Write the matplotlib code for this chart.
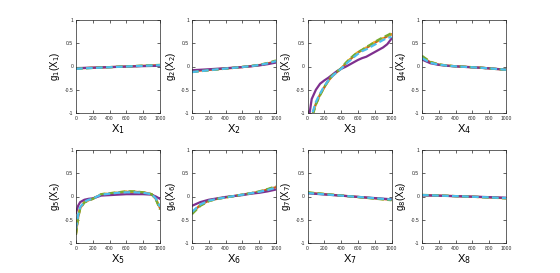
import numpy as np
import matplotlib
matplotlib.use("Agg")
import matplotlib.pyplot as plt

plt.rcParams['font.family'] = ['Liberation Sans', 'DejaVu Sans']

# MATLAB default colours
c_orange = (0.850, 0.325, 0.098)
c_yellow = (0.929, 0.694, 0.125)
c_purple = (0.494, 0.184, 0.556)
c_green = (0.466, 0.674, 0.188)
c_cyan = (0.301, 0.745, 0.933)

# estimated component functions g_j(X_j), 5 fits each
x11 = [0, 100, 200, 300, 400, 500, 600, 700, 800, 900, 1000]

g1_o = [-0.04, -0.034, -0.028, -0.021, -0.014, -0.007, 0.0, 0.008, 0.015, 0.022, 0.03]
g1_y = [-0.045, -0.038, -0.03, -0.022, -0.015, -0.007, 0.0, 0.008, 0.016, 0.024, 0.032]
g1_p = [-0.035, -0.03, -0.025, -0.019, -0.013, -0.007, -0.002, 0.003, 0.008, 0.012, 0.015]
g1_g = [-0.045, -0.037, -0.03, -0.022, -0.014, -0.006, 0.002, 0.01, 0.018, 0.026, 0.035]
g1_c = [-0.05, -0.04, -0.032, -0.024, -0.016, -0.008, 0.0, 0.008, 0.015, 0.022, 0.028]

g2_o = [-0.1, -0.087, -0.073, -0.058, -0.043, -0.028, -0.012, 0.007, 0.03, 0.065, 0.11]
g2_y = [-0.11, -0.095, -0.078, -0.062, -0.045, -0.028, -0.01, 0.009, 0.033, 0.07, 0.12]
g2_p = [-0.08, -0.07, -0.06, -0.048, -0.037, -0.025, -0.012, 0.004, 0.024, 0.05, 0.085]
g2_g = [-0.12, -0.1, -0.082, -0.064, -0.046, -0.028, -0.01, 0.01, 0.036, 0.075, 0.13]
g2_c = [-0.12, -0.1, -0.08, -0.062, -0.045, -0.028, -0.01, 0.009, 0.032, 0.068, 0.115]

x21 = [0, 50, 100, 150, 200, 250, 300, 350, 400, 450, 500, 550, 600, 650, 700,
       750, 800, 850, 900, 950, 1000]
g3_o = [-1.4, -1.08, -0.8, -0.6, -0.45, -0.3, -0.2, -0.12, -0.05, 0.05, 0.14, 0.22, 0.3,
        0.35, 0.4, 0.45, 0.51, 0.56, 0.6, 0.65, 0.69]
g3_y = [-1.4, -1.1, -0.8, -0.61, -0.44, -0.31, -0.19, -0.12, -0.04, 0.06, 0.15, 0.23, 0.31,
        0.34, 0.41, 0.46, 0.53, 0.55, 0.61, 0.66, 0.7]
g3_p = [-1.3, -0.7, -0.5, -0.37, -0.3, -0.24, -0.17, -0.1, -0.05, -0.01, 0.04, 0.09, 0.14,
        0.18, 0.21, 0.26, 0.31, 0.36, 0.41, 0.48, 0.6]
g3_g = [-1.45, -1.12, -0.82, -0.62, -0.44, -0.29, -0.18, -0.11, -0.04, 0.07, 0.16, 0.24, 0.31,
        0.36, 0.42, 0.47, 0.53, 0.58, 0.63, 0.67, 0.72]
g3_c = [-1.4, -1.05, -0.76, -0.58, -0.42, -0.3, -0.2, -0.12, -0.05, 0.04, 0.12, 0.2, 0.27,
        0.33, 0.37, 0.42, 0.47, 0.52, 0.57, 0.61, 0.64]

g4_o = [0.2, 0.09, 0.04, 0.02, 0.005, -0.005, -0.015, -0.025, -0.04, -0.055, -0.065]
g4_y = [0.21, 0.1, 0.045, 0.02, 0.005, -0.005, -0.015, -0.025, -0.04, -0.055, -0.07]
g4_p = [0.15, 0.07, 0.035, 0.015, 0.002, -0.008, -0.018, -0.028, -0.04, -0.055, -0.065]
g4_g = [0.23, 0.1, 0.045, 0.02, 0.005, -0.005, -0.015, -0.027, -0.042, -0.057, -0.07]
g4_c = [0.18, 0.08, 0.04, 0.018, 0.003, -0.007, -0.017, -0.027, -0.04, -0.055, -0.07]

x5 = [0, 25, 50, 100, 150, 200, 250, 300, 400, 500, 600, 700, 800, 900, 950, 1000]
g5_o = [-0.8, -0.45, -0.25, -0.12, -0.08, -0.05, 0.0, 0.04, 0.06, 0.08, 0.1, 0.1, 0.09, 0.05, -0.05, -0.25]
g5_y = [-0.78, -0.42, -0.24, -0.12, -0.08, -0.05, 0.0, 0.05, 0.07, 0.09, 0.11, 0.1, 0.09, 0.05, -0.05, -0.26]
g5_p = [-0.35, -0.2, -0.12, -0.07, -0.05, -0.04, -0.01, 0.02, 0.03, 0.04, 0.05, 0.05, 0.05, 0.04, 0.0, -0.05]
g5_g = [-0.82, -0.46, -0.26, -0.13, -0.09, -0.05, 0.0, 0.05, 0.07, 0.09, 0.11, 0.11, 0.09, 0.05, -0.06, -0.28]
g5_c = [-0.7, -0.4, -0.23, -0.11, -0.07, -0.05, 0.0, 0.04, 0.06, 0.08, 0.09, 0.09, 0.08, 0.05, -0.04, -0.22]

g6_o = [-0.35, -0.18, -0.09, -0.05, -0.02, 0.01, 0.04, 0.07, 0.1, 0.15, 0.2]
g6_y = [-0.36, -0.19, -0.1, -0.05, -0.02, 0.01, 0.04, 0.07, 0.1, 0.15, 0.21]
g6_p = [-0.2, -0.12, -0.07, -0.04, -0.01, 0.01, 0.03, 0.06, 0.08, 0.11, 0.15]
g6_g = [-0.38, -0.2, -0.1, -0.05, -0.02, 0.01, 0.04, 0.07, 0.11, 0.16, 0.22]
g6_c = [-0.33, -0.17, -0.09, -0.05, -0.02, 0.01, 0.04, 0.07, 0.1, 0.14, 0.19]

g7_o = [0.08, 0.065, 0.05, 0.035, 0.02, 0.005, -0.01, -0.025, -0.04, -0.055, -0.07]
g7_y = [0.085, 0.069, 0.053, 0.037, 0.021, 0.005, -0.011, -0.027, -0.043, -0.059, -0.075]
g7_p = [0.07, 0.057, 0.044, 0.031, 0.018, 0.005, -0.008, -0.021, -0.034, -0.047, -0.06]
g7_g = [0.09, 0.073, 0.056, 0.039, 0.022, 0.005, -0.012, -0.029, -0.046, -0.063, -0.08]
g7_c = [0.075, 0.061, 0.047, 0.033, 0.019, 0.005, -0.009, -0.023, -0.037, -0.051, -0.065]

g8_o = [0.03, 0.025, 0.02, 0.014, 0.008, 0.002, -0.005, -0.012, -0.02, -0.028, -0.036]
g8_y = [0.032, 0.026, 0.02, 0.014, 0.008, 0.002, -0.005, -0.012, -0.02, -0.028, -0.038]
g8_p = [0.025, 0.021, 0.017, 0.012, 0.007, 0.002, -0.003, -0.008, -0.014, -0.02, -0.026]
g8_g = [0.035, 0.029, 0.022, 0.015, 0.008, 0.001, -0.006, -0.014, -0.022, -0.031, -0.04]
g8_c = [0.03, 0.025, 0.02, 0.014, 0.008, 0.002, -0.005, -0.012, -0.019, -0.027, -0.034]

panels = [
    (x11, [g1_o, g1_y, g1_p, g1_g, g1_c]),
    (x11, [g2_o, g2_y, g2_p, g2_g, g2_c]),
    (x21, [g3_o, g3_y, g3_p, g3_g, g3_c]),
    (x11, [g4_o, g4_y, g4_p, g4_g, g4_c]),
    (x5, [g5_o, g5_y, g5_p, g5_g, g5_c]),
    (x11, [g6_o, g6_y, g6_p, g6_g, g6_c]),
    (x11, [g7_o, g7_y, g7_p, g7_g, g7_c]),
    (x11, [g8_o, g8_y, g8_p, g8_g, g8_c]),
]
colors = [c_orange, c_yellow, c_purple, c_green, c_cyan]
styles = ['-', '--', '-', '--', '--']

fig = plt.figure(figsize=(5.6, 2.73), dpi=100)
lefts = [76 / 560, 192 / 560, 307.5 / 560, 422 / 560]
w = 84 / 560
bottoms = [1 - 113 / 273, 1 - 243 / 273]
h = 93 / 273
axc = (0.15, 0.15, 0.15)

for k, (xs, ys) in enumerate(panels):
    r, c = divmod(k, 4)
    ax = fig.add_axes([lefts[c], bottoms[r], w, h])
    for y, col, ls in zip(ys, colors, styles):
        if ls == '--':
            ax.plot(xs, y, color=col, lw=1.6, ls='--', dashes=(3, 1.5))
        else:
            ax.plot(xs, y, color=col, lw=1.6)
    ax.set_xlim(0, 1000)
    ax.set_ylim(-1, 1)
    ax.set_xticks([0, 200, 400, 600, 800, 1000])
    ax.set_yticks([-1, -0.5, 0, 0.5, 1])
    ax.set_yticklabels(['-1', '-0.5', '0', '0.5', '1'])
    ax.tick_params(direction='in', length=2, width=0.5, labelsize=3.6, colors=axc,
                   top=True, right=True, pad=2)
    for s in ax.spines.values():
        s.set_linewidth(0.5)
        s.set_color(axc)
    ax.set_xlabel('X$_{%d}$' % (k + 1), fontsize=8, color='black', labelpad=1)
    ax.set_ylabel('g$_{%d}$(X$_{%d}$)' % (k + 1, k + 1), fontsize=7, color='black', labelpad=2)

fig.savefig('out.png', dpi=100)
